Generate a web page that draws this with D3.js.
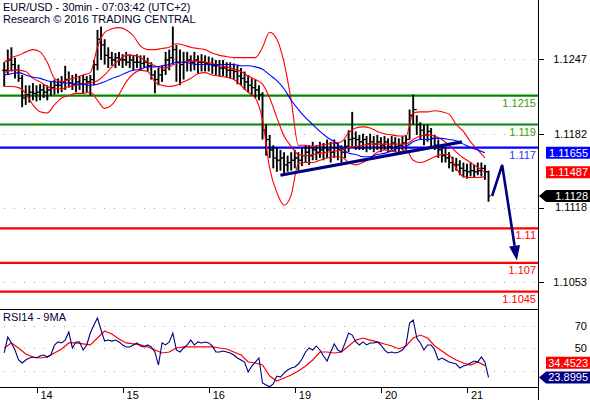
<!DOCTYPE html>
<html>
<head>
<meta charset="utf-8">
<script src="https://cdn.jsdelivr.net/npm/d3@7"></script>
<style>
  body { margin: 0; background: #fff; }
  svg { display: block; font-family: "Liberation Sans", Arial, sans-serif; }
</style>
</head>
<body>
<svg id="chart" width="590" height="400"></svg>
<script>
// hours counted in trading time from 14th 00:00, one bar per hour
const startHour = -9;
const barHigh = [1.1244,1.1255,1.1257,1.1248,1.1242,1.1233,1.1224,1.1224,1.1226,
  1.1224,1.1225,1.1225,1.1224,1.1227,1.1229,1.1230,1.1232,1.1241,1.1236,
  1.1233,1.1234,1.1232,1.1233,1.1232,1.1233,1.1246,1.1272,1.1275,1.1264,
  1.1257,1.1253,1.1252,1.1253,1.1251,1.1253,1.1251,1.1250,1.1251,1.1250,
  1.1250,1.1248,1.1244,1.1237,1.1239,1.1241,1.1253,1.1255,1.1275,1.1259,
  1.1255,1.1253,1.1253,1.1250,1.1253,1.1250,1.1251,1.1250,1.1249,1.1248,
  1.1246,1.1246,1.1246,1.1244,1.1244,1.1243,1.1241,1.1239,1.1236,1.1233,
  1.1230,1.1229,1.1224,1.1218,1.1190,1.1181,1.1172,1.1170,1.1168,1.1166,
  1.1163,1.1166,1.1168,1.1166,1.1170,1.1172,1.1172,1.1175,1.1172,1.1175,
  1.1174,1.1177,1.1175,1.1177,1.1174,1.1172,1.1177,1.1185,1.1201,1.1184,
  1.1181,1.1182,1.1180,1.1182,1.1180,1.1181,1.1179,1.1180,1.1178,1.1180,
  1.1179,1.1178,1.1180,1.1181,1.1203,1.1216,1.1198,1.1192,1.1190,1.1190,
  1.1187,1.1181,1.1177,1.1172,1.1170,1.1166,1.1162,1.1161,1.1159,1.1157,
  1.1156,1.1157,1.1155,1.1157,1.1157,1.1155,1.1150];
const barLow = [1.1223,1.1233,1.1236,1.1230,1.1227,1.1205,1.1207,1.1209,1.1211,
  1.1210,1.1211,1.1213,1.1211,1.1215,1.1216,1.1217,1.1218,1.1220,1.1222,
  1.1220,1.1218,1.1220,1.1217,1.1218,1.1215,1.1224,1.1237,1.1246,1.1242,
  1.1239,1.1241,1.1239,1.1241,1.1239,1.1241,1.1239,1.1237,1.1239,1.1237,
  1.1239,1.1236,1.1229,1.1217,1.1224,1.1227,1.1233,1.1237,1.1242,1.1227,
  1.1224,1.1229,1.1236,1.1236,1.1237,1.1234,1.1236,1.1236,1.1236,1.1234,
  1.1233,1.1232,1.1232,1.1231,1.1230,1.1229,1.1225,1.1224,1.1220,1.1218,
  1.1215,1.1213,1.1211,1.1177,1.1163,1.1161,1.1152,1.1149,1.1150,1.1146,
  1.1149,1.1150,1.1152,1.1150,1.1154,1.1157,1.1155,1.1159,1.1159,1.1161,
  1.1159,1.1161,1.1157,1.1161,1.1159,1.1157,1.1161,1.1166,1.1170,1.1168,
  1.1168,1.1168,1.1166,1.1168,1.1166,1.1168,1.1166,1.1168,1.1166,1.1168,
  1.1166,1.1166,1.1168,1.1168,1.1177,1.1190,1.1181,1.1177,1.1172,1.1175,
  1.1170,1.1168,1.1161,1.1157,1.1157,1.1152,1.1149,1.1150,1.1146,1.1144,
  1.1143,1.1145,1.1144,1.1146,1.1145,1.1142,1.1123];
const barClose = [1.1237,1.1246,1.1242,1.1237,1.1230,1.1213,1.1216,1.1218,1.1217,
  1.1218,1.1220,1.1218,1.1220,1.1222,1.1224,1.1224,1.1227,1.1229,1.1226,
  1.1225,1.1227,1.1225,1.1229,1.1227,1.1229,1.1242,1.1264,1.1259,1.1250,
  1.1248,1.1246,1.1248,1.1246,1.1246,1.1244,1.1246,1.1244,1.1244,1.1243,
  1.1244,1.1241,1.1233,1.1229,1.1233,1.1237,1.1246,1.1248,1.1255,1.1244,
  1.1242,1.1244,1.1246,1.1244,1.1246,1.1244,1.1244,1.1243,1.1242,1.1241,
  1.1241,1.1239,1.1239,1.1237,1.1237,1.1236,1.1232,1.1230,1.1227,1.1224,
  1.1222,1.1220,1.1216,1.1185,1.1177,1.1168,1.1161,1.1159,1.1161,1.1155,
  1.1157,1.1159,1.1161,1.1159,1.1163,1.1166,1.1163,1.1168,1.1166,1.1168,
  1.1170,1.1168,1.1166,1.1170,1.1168,1.1166,1.1171,1.1177,1.1178,1.1177,
  1.1175,1.1177,1.1173,1.1175,1.1173,1.1175,1.1172,1.1175,1.1171,1.1174,
  1.1171,1.1172,1.1174,1.1177,1.1198,1.1203,1.1190,1.1185,1.1181,1.1184,
  1.1178,1.1172,1.1168,1.1163,1.1161,1.1157,1.1155,1.1155,1.1152,1.1150,
  1.1149,1.1150,1.1149,1.1150,1.1152,1.1149,1.1128];

// indicators read every 2 hours
const lineStep = 2;
const bbUpper = [1.1244,1.1248,1.1250,1.1253,1.1255,1.1253,1.1244,1.1230,1.1227,1.1229,
  1.1231,1.1233,1.1235,1.1257,1.1270,1.1273,1.1274,1.1272,1.1267,1.1258,
  1.1255,1.1255,1.1256,1.1257,1.1260,1.1259,1.1257,1.1256,1.1255,1.1252,
  1.1250,1.1249,1.1248,1.1248,1.1248,1.1248,1.1257,1.1270,1.1264,1.1244,
  1.1211,1.1172,1.1172,1.1171,1.1172,1.1173,1.1174,1.1175,1.1183,1.1187,
  1.1188,1.1187,1.1184,1.1182,1.1181,1.1180,1.1180,1.1200,1.1201,1.1201,
  1.1202,1.1201,1.1199,1.1190,1.1184,1.1175,1.1168,1.1161];
const bbMiddle = [1.1235,1.1237,1.1237,1.1236,1.1230,1.1227,1.1223,1.1221,1.1221,1.1223,
  1.1224,1.1225,1.1226,1.1228,1.1233,1.1240,1.1246,1.1250,1.1250,1.1248,
  1.1244,1.1241,1.1239,1.1240,1.1243,1.1244,1.1245,1.1245,1.1244,1.1243,
  1.1241,1.1240,1.1238,1.1236,1.1232,1.1229,1.1225,1.1213,1.1196,1.1180,
  1.1171,1.1164,1.1163,1.1164,1.1165,1.1166,1.1167,1.1168,1.1170,1.1171,
  1.1172,1.1173,1.1173,1.1173,1.1173,1.1173,1.1173,1.1177,1.1180,1.1181,
  1.1180,1.1177,1.1172,1.1166,1.1161,1.1157,1.1153,1.11487];
const bbLower = [1.1223,1.1223,1.1222,1.1217,1.1207,1.1201,1.1200,1.1207,1.1213,1.1215,
  1.1217,1.1217,1.1218,1.1211,1.1204,1.1207,1.1216,1.1227,1.1234,1.1237,
  1.1236,1.1227,1.1224,1.1223,1.1224,1.1227,1.1230,1.1234,1.1235,1.1233,
  1.1232,1.1231,1.1229,1.1224,1.1218,1.1213,1.1194,1.1152,1.1131,1.1120,
  1.1129,1.1156,1.1157,1.1157,1.1159,1.1161,1.1162,1.1162,1.1157,1.1155,
  1.1157,1.1161,1.1166,1.1168,1.1167,1.1166,1.1168,1.1159,1.1157,1.1159,
  1.1162,1.1164,1.1164,1.1152,1.1145,1.1144,1.1144,1.1145];
const maLine = [1.1233,1.1234,1.1235,1.1233,1.1231,1.1230,1.1228,1.1227,1.1226,1.1226,
  1.1225,1.1225,1.1224,1.1225,1.1227,1.1230,1.1232,1.1235,1.1237,1.1238,
  1.1240,1.1240,1.1241,1.1242,1.1244,1.1244,1.1243,1.1242,1.1242,1.1242,
  1.1242,1.1242,1.1242,1.1241,1.1241,1.1240,1.1238,1.1233,1.1228,1.1221,
  1.1211,1.1203,1.1196,1.1190,1.1184,1.1179,1.1175,1.1170,1.1165,1.1164,
  1.1162,1.1162,1.1164,1.1165,1.1167,1.1170,1.1171,1.1175,1.1177,1.1177,
  1.1178,1.1178,1.1177,1.1176,1.1173,1.1170,1.1168,1.11655];

// RSI14 hourly, its 9MA every 2 hours
const rsiValues = [45.8,60.1,54.8,48.5,39.5,36.8,39.5,41.3,42.2,
  41.3,43.1,44.0,42.2,44.0,53.0,55.7,54.8,57.4,64.6,
  50.3,55.7,55.7,48.5,53.0,63.7,70.9,77.2,66.4,56.5,
  57.4,56.5,57.4,55.7,53.0,51.2,51.2,53.0,54.8,52.1,
  51.2,53.0,51.2,46.7,35.0,54.8,53.0,55.7,63.7,48.5,
  46.7,50.3,53.0,57.4,53.0,55.7,54.8,55.7,54.8,52.1,
  46.7,46.7,47.6,46.7,45.8,44.0,41.3,39.5,37.7,28.7,
  34.1,37.7,41.3,18.9,17.1,15.5,18.0,25.1,24.2,27.8,
  30.5,32.3,33.2,35.9,40.4,46.7,50.3,48.5,52.1,48.5,
  43.1,38.6,46.7,53.9,48.5,46.7,54.8,63.7,61.9,55.7,
  53.0,55.7,53.0,54.8,54.8,55.7,53.0,48.5,45.8,46.7,
  45.8,46.7,48.5,53.0,72.7,75.4,59.2,54.8,48.5,53.0,
  53.0,48.5,39.5,41.3,39.5,37.7,36.8,35.9,32.3,34.1,
  35.0,36.8,38.6,37.7,42.2,37.7,23.8995];
const rsiMa = [50.3,54.8,50.3,44.9,42.2,41.3,42.2,45.8,49.4,54.8,
  54.8,53.9,53.0,59.2,65.5,62.8,58.3,54.8,53.9,53.0,
  51.2,48.5,45.8,46.7,50.3,51.2,51.2,51.2,51.2,51.2,
  50.3,49.4,46.7,44.0,37.7,36.8,35.0,25.1,20.7,23.4,
  26.0,29.6,34.1,39.5,46.7,46.7,45.8,46.7,52.1,57.4,
  59.2,57.4,55.7,53.9,52.1,49.4,52.1,59.2,61.9,59.2,
  52.1,47.6,43.1,39.5,36.8,35.0,37.7,34.4523];

const levelValues = [1.1215, 1.119, 1.117, 1.11, 1.107, 1.1045];
const levelLabels = ["1.1215", "1.119", "1.117", "1.11", "1.107", "1.1045"];
const levelKinds = ["res", "res", "pivot", "sup", "sup", "sup"];

const priceTicks = [1.1247, 1.1182, 1.1118, 1.1053];
const rsiGrid = [70, 50, 30];
const rsiTickLabels = [70, 50];
const dayHours = [0, 24, 48, 72, 96, 120];
const dayLabels = ["14", "15", "16", "19", "20", "21"];

const trendLine = [[68, 1.1146], [118.6, 1.1175]];
const forecast = [[127, 1.1128], [129.8, 1.1155], [133.9, 1.1072]];

const svg = d3.select("#chart");
const plotRight = 538;
const mainBottom = 309, rsiTop = 310, rsiBottom = 387;

const x = d3.scaleLinear().domain([0, 120]).range([36.5, 467]);
const y = d3.scaleLinear().domain([1.1030, 1.1298]).range([mainBottom, 0]);
const yR = d3.scaleLinear().domain([15.3, 84.35]).range([rsiBottom, rsiTop]);

const defs = svg.append("defs");
defs.append("clipPath").attr("id", "clipMain")
  .append("rect").attr("x", 0).attr("y", 0).attr("width", plotRight).attr("height", mainBottom);
defs.append("clipPath").attr("id", "clipRsi")
  .append("rect").attr("x", 0).attr("y", rsiTop).attr("width", plotRight).attr("height", rsiBottom - rsiTop);

// dotted grid
const grid = svg.append("g").attr("stroke", "#a8a8a8").attr("stroke-dasharray", "1,9");
grid.selectAll(".pg").data(priceTicks).enter().append("line")
  .attr("x1", 4).attr("x2", plotRight)
  .attr("y1", d => Math.round(y(d)) + 0.5).attr("y2", d => Math.round(y(d)) + 0.5);
grid.selectAll(".rg").data(rsiGrid).enter().append("line")
  .attr("x1", 4).attr("x2", plotRight)
  .attr("y1", d => Math.round(yR(d)) + 0.5).attr("y2", d => Math.round(yR(d)) + 0.5);

const main = svg.append("g").attr("clip-path", "url(#clipMain)");

const levelColor = { res: "#008800", pivot: "#0000ff", sup: "#ff0000" };
const levelText = { res: "#3c9a00", pivot: "#3333ff", sup: "#ff0000" };

main.selectAll(".lvl").data(levelValues).enter().append("line")
  .attr("x1", 0).attr("x2", plotRight)
  .attr("y1", d => y(d)).attr("y2", d => y(d))
  .attr("stroke", (d, i) => levelColor[levelKinds[i]])
  .attr("stroke-width", 2.2);

// bars
const bars = barHigh.map((h, i) => ({
  t: startHour + i, high: h, low: barLow[i], close: barClose[i],
  open: i > 0 ? barClose[i - 1] : barClose[0]
}));
const barG = main.append("g").attr("stroke", "#000").attr("stroke-width", 1.9);
barG.selectAll(".hl").data(bars).enter().append("line")
  .attr("x1", d => x(d.t)).attr("x2", d => x(d.t))
  .attr("y1", d => y(d.high)).attr("y2", d => y(d.low));
barG.selectAll(".op").data(bars).enter().append("line")
  .attr("stroke-width", 1.2)
  .attr("x1", d => x(d.t) - 2.2).attr("x2", d => x(d.t))
  .attr("y1", d => y(d.open)).attr("y2", d => y(d.open));
barG.selectAll(".cl").data(bars).enter().append("line")
  .attr("stroke-width", 1.2)
  .attr("x1", d => x(d.t)).attr("x2", d => x(d.t) + 2.2)
  .attr("y1", d => y(d.close)).attr("y2", d => y(d.close));

const stepLine = d3.line()
  .x((d, i) => x(startHour + i * lineStep))
  .y(d => y(d))
  .curve(d3.curveMonotoneX);

[bbUpper, bbMiddle, bbLower].forEach(series => {
  main.append("path").attr("d", stepLine(series))
    .attr("fill", "none").attr("stroke", "#ff0000").attr("stroke-width", 1.1);
});
main.append("path").attr("d", stepLine(maLine))
  .attr("fill", "none").attr("stroke", "#0000ff").attr("stroke-width", 1.1);

// trend line
main.append("line")
  .attr("x1", x(trendLine[0][0])).attr("y1", y(trendLine[0][1]))
  .attr("x2", x(trendLine[1][0])).attr("y2", y(trendLine[1][1]))
  .attr("stroke", "#000080").attr("stroke-width", 3.2);

// level labels
svg.selectAll(".lvlText").data(levelValues).enter().append("text")
  .attr("x", plotRight - 2).attr("y", d => y(d) + 11)
  .attr("text-anchor", "end").style("font-size", "11px")
  .attr("fill", (d, i) => levelText[levelKinds[i]])
  .text((d, i) => levelLabels[i]);

// forecast arrow
const fpts = forecast.map(d => [x(d[0]), y(d[1])]);
const a = fpts[fpts.length - 2], b = fpts[fpts.length - 1];
const len = Math.hypot(b[0] - a[0], b[1] - a[1]);
const ux = (b[0] - a[0]) / len, uy = (b[1] - a[1]) / len;
const headLen = 15, headW = 5.5;
const base = [b[0] - ux * headLen, b[1] - uy * headLen];
svg.append("path")
  .attr("d", d3.line()([...fpts.slice(0, -1), base]))
  .attr("fill", "none").attr("stroke", "#000080").attr("stroke-width", 2.6)
  .attr("stroke-linejoin", "miter");
svg.append("path")
  .attr("d", d3.line()([[b[0], b[1]], [base[0] - uy * headW, base[1] + ux * headW], [base[0] + uy * headW, base[1] - ux * headW]]) + "Z")
  .attr("fill", "#000080");

// RSI panel
const rsiG = svg.append("g").attr("clip-path", "url(#clipRsi)");
rsiG.append("path")
  .attr("d", d3.line().x((d, i) => x(startHour + i * lineStep)).y(d => yR(d))(rsiMa))
  .attr("fill", "none").attr("stroke", "#ff0000").attr("stroke-width", 1.2);
rsiG.append("path")
  .attr("d", d3.line().x((d, i) => x(startHour + i)).y(d => yR(d))(rsiValues))
  .attr("fill", "none").attr("stroke", "#000080").attr("stroke-width", 1.1);

// frame
const frame = svg.append("g").attr("stroke", "#000").attr("stroke-width", 1);
frame.append("line").attr("x1", plotRight + 0.5).attr("x2", plotRight + 0.5).attr("y1", 0).attr("y2", 400);
frame.append("line").attr("x1", 0).attr("x2", plotRight).attr("y1", mainBottom + 0.5).attr("y2", mainBottom + 0.5);
frame.append("line").attr("x1", 0).attr("x2", plotRight).attr("y1", rsiBottom + 0.5).attr("y2", rsiBottom + 0.5);

// right axis
frame.selectAll(".pt").data(priceTicks).enter().append("line")
  .attr("x1", plotRight).attr("x2", plotRight + 6)
  .attr("y1", d => Math.round(y(d)) + 0.5).attr("y2", d => Math.round(y(d)) + 0.5);
svg.selectAll(".ptl").data(priceTicks).enter().append("text")
  .attr("x", 587).attr("y", d => y(d)).attr("dy", "0.35em")
  .attr("text-anchor", "end").style("font-size", "11px").attr("fill", "#000")
  .text(d => d3.format(".4f")(d));
svg.selectAll(".rtl").data(rsiTickLabels).enter().append("text")
  .attr("x", 587).attr("y", d => yR(d)).attr("dy", "0.35em")
  .attr("text-anchor", "end").style("font-size", "11px").attr("fill", "#000")
  .text(d => d);

function valueBox(yPos, label, fill, arrow) {
  const top = yPos - 6, bot = yPos + 6;
  const pts = arrow
    ? [[539, yPos], [546, top], [590, top], [590, bot], [546, bot]]
    : [[546, top], [590, top], [590, bot], [546, bot]];
  svg.append("path").attr("d", d3.line()(pts) + "Z").attr("fill", fill);
  svg.append("text").attr("x", 588).attr("y", yPos).attr("dy", "0.36em")
    .attr("text-anchor", "end").style("font-size", "11px").attr("fill", "#fff")
    .text(label);
}
valueBox(y(maLine[maLine.length - 1]), d3.format(".5f")(maLine[maLine.length - 1]), "#0000ff", false);
valueBox(y(bbMiddle[bbMiddle.length - 1]), d3.format(".5f")(bbMiddle[bbMiddle.length - 1]), "#ff0000", false);
valueBox(y(barClose[barClose.length - 1]), d3.format(".4f")(barClose[barClose.length - 1]), "#000000", true);
valueBox(yR(rsiMa[rsiMa.length - 1]) - 3, d3.format(".4f")(rsiMa[rsiMa.length - 1]), "#ff0000", false);
valueBox(yR(rsiValues[rsiValues.length - 1]), d3.format(".4f")(rsiValues[rsiValues.length - 1]), "#000080", true);

// bottom axis days
frame.selectAll(".dt").data(dayHours).enter().append("line")
  .attr("x1", d => Math.round(x(d)) + 0.5).attr("x2", d => Math.round(x(d)) + 0.5)
  .attr("y1", rsiBottom).attr("y2", rsiBottom + 6);
svg.selectAll(".dl").data(dayHours).enter().append("text")
  .attr("x", d => x(d) + 4).attr("y", 398.5)
  .style("font-size", "11px").attr("fill", "#000")
  .text((d, i) => dayLabels[i]);

// titles
svg.append("text").attr("x", 3).attr("y", 10.5).style("font-size", "11px").attr("fill", "#000028")
  .text("EUR/USD - 30min - 07:03:42 (UTC+2)");
svg.append("text").attr("x", 3).attr("y", 23).style("font-size", "11px").attr("fill", "#000028")
  .text("Research \u00a9 2016 TRADING CENTRAL");
svg.append("text").attr("x", 3).attr("y", 321).style("font-size", "11px").attr("fill", "#000040")
  .text("RSI14 - 9MA");
</script>
</body>
</html>
